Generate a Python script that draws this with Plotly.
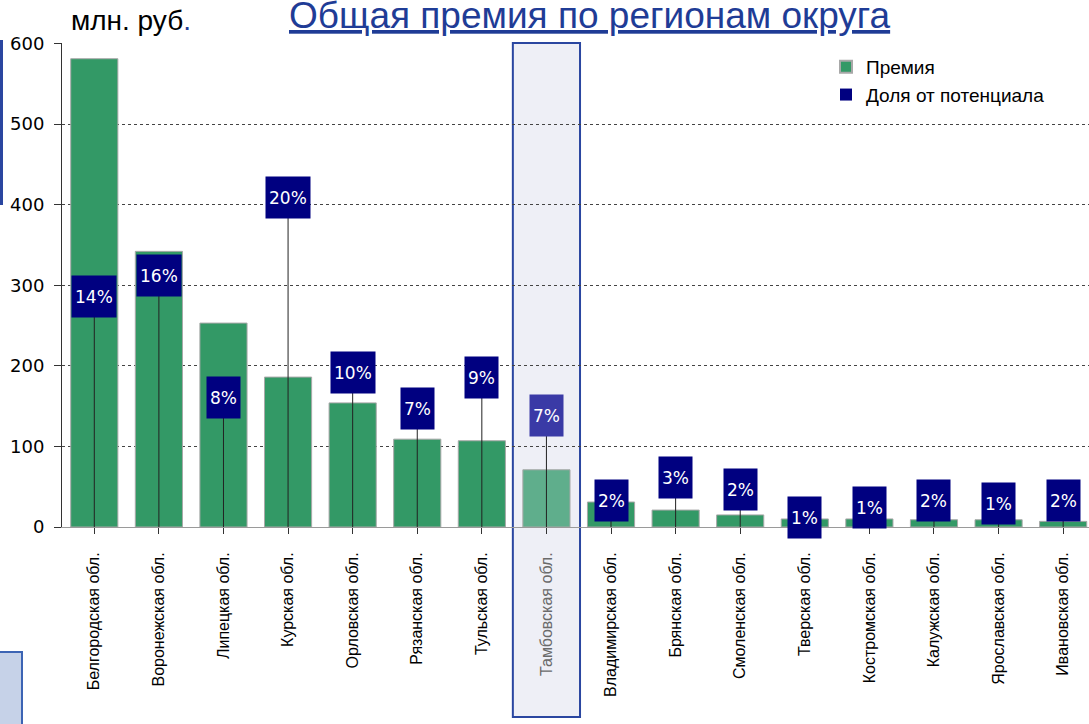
import plotly.graph_objects as go

regions = ["Белгородская обл.", "Воронежская обл.", "Липецкая обл.", "Курская обл.",
           "Орловская обл.", "Рязанская обл.", "Тульская обл.", "Тамбовская обл.",
           "Владимирская обл.", "Брянская обл.", "Смоленская обл.", "Тверская обл.",
           "Костромская обл.", "Калужская обл.", "Ярославская обл.", "Ивановская обл."]
premium = [581, 342, 253, 186, 154, 109, 107, 71, 31, 21, 15, 10, 10, 9, 9, 7]
share_pos = [14.0, 15.3, 7.9, 20.0, 9.4, 7.2, 9.1, 6.8, 1.6, 3.0, 2.3, 0.6, 1.2, 1.6, 1.4, 1.6]
share_lbl = ["14%", "16%", "8%", "20%", "10%", "7%", "9%", "7%",
             "2%", "3%", "2%", "1%", "1%", "2%", "1%", "2%"]
highlight = "Тамбовская обл."
y_ticks = [0, 100, 200, 300, 400, 500, 600]

GREEN = "#339966"
GREEN_HL = "#5fae8c"
NAVY = "#000080"
NAVY_HL = "#3a3aa6"
BLUE = "#1f3c96"

W, H = 1089, 724
ML, MR, MT = 62, 0, 43
MB = H - 527
PW, PH = W - ML - MR, H - MT - MB


def px(xp):  # page pixel -> paper x
    return (xp - ML) / PW


def py(yp):  # page pixel -> paper y
    return (H - MB - yp) / PH


idx = list(range(len(regions)))
hl = regions.index(highlight)
bar_colors = [GREEN_HL if i == hl else GREEN for i in idx]
ticktext = [f"<span style='color:#6a6a6a'>{r}</span>" if r == highlight else r for r in regions]

fig = go.Figure()
fig.add_trace(go.Bar(
    x=idx, y=premium, name="Премия", width=0.73,
    marker=dict(color=bar_colors, line=dict(color="#a8a8a8", width=1)),
    showlegend=True,
))
fig.add_trace(go.Scatter(
    x=idx, y=share_pos, name="Доля от потенциала", yaxis="y2", mode="markers",
    marker=dict(symbol="square", size=9, color=NAVY),
    error_y=dict(type="data", symmetric=False, array=[0] * len(idx),
                 arrayminus=share_pos, width=0, thickness=1, color="#222222"),
))

for i in idx:
    fig.add_annotation(
        x=i, y=share_pos[i], xref="x", yref="y2", text=share_lbl[i], showarrow=False,
        font=dict(family="DejaVu Sans", size=17, color="white"),
        bgcolor=NAVY_HL if i == hl else NAVY, borderpad=3, height=35,
        xanchor="center", yanchor="middle",
    )

# highlight frame around the selected region
fig.add_shape(type="rect", xref="x", yref="paper", x0=hl - 0.52, x1=hl + 0.52,
              y0=py(717), y1=py(43), fillcolor="#eeeff6",
              line=dict(color="#2a46a0", width=2), layer="below")
# slide decorations at the left edge
fig.add_shape(type="rect", xref="paper", yref="paper", x0=px(0), x1=px(3),
              y0=py(205), y1=py(40), fillcolor="#2a46a0", line=dict(width=0), layer="below")
fig.add_shape(type="rect", xref="paper", yref="paper", x0=px(-2), x1=px(22),
              y0=py(730), y1=py(652), fillcolor="#c6d2e8",
              line=dict(color="#3c64b4", width=2), layer="below")

fig.add_annotation(xref="paper", yref="paper", x=px(69), y=py(20), xanchor="left", yanchor="middle",
                   text="млн. руб<span style='color:#1f3c96'>.</span>", showarrow=False,
                   font=dict(family="Liberation Sans", size=28, color="black"))
fig.add_annotation(xref="paper", yref="paper", x=px(590), y=py(16), xanchor="center", yanchor="middle",
                   text="<u>Общая премия по регионам округа</u>", showarrow=False,
                   font=dict(family="Liberation Sans", size=37, color=BLUE))

fig.update_layout(
    width=W, height=H, margin=dict(l=ML, r=MR, t=MT, b=MB),
    paper_bgcolor="white", plot_bgcolor="rgba(0,0,0,0)",
    font=dict(family="Liberation Sans", color="black"),
    xaxis=dict(range=[-0.5, 15.4], tickmode="array", tickvals=idx, ticktext=ticktext,
               tickangle=-90, tickson="boundaries", ticks="outside", ticklen=6,
               tickcolor="#333333", showline=True, linecolor="#9a9a9a", linewidth=1,
               showgrid=False, zeroline=False, ticklabelstandoff=12,
               tickfont=dict(family="Liberation Sans", size=16, color="black")),
    yaxis=dict(range=[0, 600.5], tickvals=y_ticks, ticks="outside", ticklen=7,
               tickcolor="#333333", showline=True, linecolor="#333333", linewidth=1,
               showgrid=True, gridcolor="#444444", griddash="dot", gridwidth=1,
               zeroline=False, ticklabelstandoff=6,
               tickfont=dict(family="DejaVu Sans", size=18, color="black")),
    yaxis2=dict(range=[0, 29.42], overlaying="y", side="right", visible=False),
    legend=dict(x=px(826), y=py(48), xanchor="left", yanchor="top",
                bgcolor="rgba(0,0,0,0)", font=dict(family="Liberation Sans", size=19),
                itemsizing="constant", tracegroupgap=2),
)

fig.write_html("out.html", config={"displayModeBar": False},
               post_script="document.body.style.margin='0';")
